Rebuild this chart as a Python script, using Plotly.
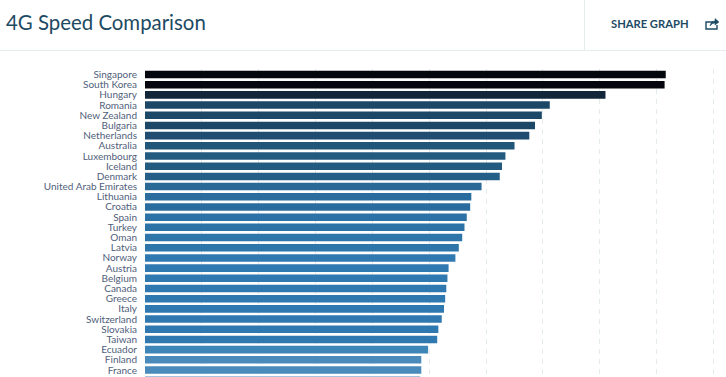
import plotly.graph_objects as go

countries = ["Singapore","South Korea","Hungary","Romania","New Zealand","Bulgaria","Netherlands","Australia",
             "Luxembourg","Iceland","Denmark","United Arab Emirates","Lithuania","Croatia","Spain","Turkey",
             "Oman","Latvia","Norway","Austria","Belgium","Canada","Greece","Italy","Switzerland","Slovakia",
             "Taiwan","Ecuador","Finland","France","Sweden"]
speeds = [45.8,45.7,40.5,35.6,34.9,34.3,33.8,32.5,31.7,31.4,31.2,29.6,28.7,28.6,28.3,28.1,27.9,27.6,27.3,
          26.7,26.6,26.5,26.4,26.3,26.1,25.8,25.7,24.9,24.3,24.3,24.2]
colors = ["#05070f","#05070f","#12263a","#1c4766","#1c4766","#1c4766","#1f4c70","#225679","#235a80","#235a80",
          "#255f87","#2a6896","#2b6c9f","#2b6c9f","#2d72a6","#2d72a6","#2e75aa","#2e75aa","#3079b0","#3079b0",
          "#3079b0","#3079b0","#3079b0","#3079b0","#3079b0","#3079b0","#3079b0","#3f86b8","#4a8bbb","#4a8bbb","#4a8bbb"]
x_ticks = [0,5,10,15,20,25,30,35,40,45,50]
title = "4G Speed Comparison"
share = "SHARE GRAPH"

W, H = 726, 400
ROW = 10.19
fig = go.Figure(go.Bar(
    y=list(range(len(countries))), x=speeds, orientation="h",
    marker=dict(color=colors, line=dict(width=0)), width=0.74,
    customdata=countries, hovertemplate="%{customdata}: %{x}<extra></extra>",
))
def X(px): return (px-145)/581
def Y(py): return 1-(py-69)/331
fig.update_layout(
    width=W, height=H, paper_bgcolor="white", plot_bgcolor="white", showlegend=False,
    margin=dict(l=145, r=0, t=69, b=0),
    font=dict(family="Lato, sans-serif", size=10, color="#50607a"),
    xaxis=dict(range=[0,51.1], tickvals=x_ticks, showticklabels=False, ticks="",
               showgrid=True, gridcolor="#e4ebee", griddash="5px,5px", gridwidth=1, zeroline=False),
    yaxis=dict(range=[-0.54+331/ROW,-0.54], type="linear", tickvals=list(range(len(countries))), ticktext=countries,
               ticklen=0, ticks="outside", ticklabelstandoff=5, showgrid=False, zeroline=False,
               tickfont=dict(family="Lato, sans-serif", size=10, color="#50607a")),
    annotations=[
        dict(text=title, xref="paper", yref="paper", x=X(4), y=Y(22), xanchor="left", yanchor="middle",
             showarrow=False, font=dict(family="Lato, sans-serif", size=20.4, color="#1d4a63")),
        dict(text=f"<b>{share}</b>", xref="paper", yref="paper", x=X(609), y=Y(24), xanchor="left", yanchor="middle",
             showarrow=False, font=dict(family="Lato, sans-serif", size=11.2, color="#1d4a63")),
    ],
    shapes=[
        dict(type="line", xref="paper", yref="paper", x0=X(0), x1=X(726), y0=Y(50.5), y1=Y(50.5), line=dict(color="#e6edef", width=1)),
        dict(type="line", xref="paper", yref="paper", x0=X(584.5), x1=X(584.5), y0=Y(0), y1=Y(50), line=dict(color="#e6edef", width=1)),
        dict(type="path", xref="paper", yref="paper",
             path=f"M {X(713)} {Y(22)} L {X(706)} {Y(22)} L {X(706)} {Y(29)} L {X(717)} {Y(29)} L {X(717)} {Y(25)}",
             line=dict(color="#1d4a63", width=1.4)),
        dict(type="path", xref="paper", yref="paper",
             path=f"M {X(710)} {Y(26)} Q {X(711)} {Y(21)} {X(715)} {Y(21)} L {X(715)} {Y(18.5)} L {X(719)} {Y(22)} L {X(715)} {Y(25)} L {X(715)} {Y(23)} Q {X(712)} {Y(23)} {X(710)} {Y(26)} Z",
             fillcolor="#1d4a63", line=dict(color="#1d4a63", width=0.5)),
    ],
)
fig.write_html("out.html", config={"displayModeBar": False},
               post_script="document.documentElement.style.overflow='hidden';document.body.style.overflow='hidden';document.body.style.margin='0';")
